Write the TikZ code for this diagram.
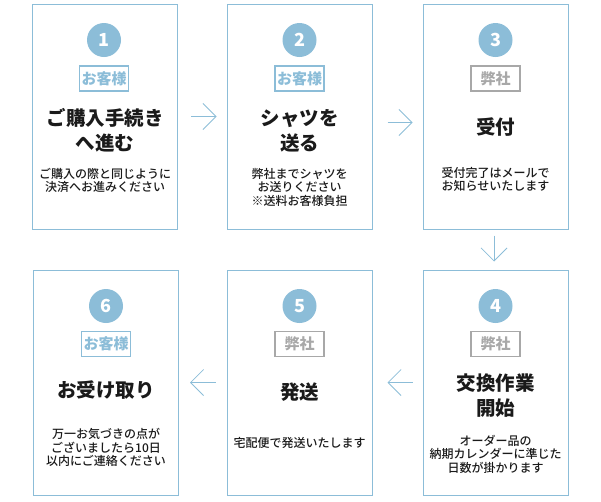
\documentclass[tikz,border=0pt]{standalone}
\usepackage{fontspec}
\setmainfont{Noto Sans CJK JP}
\newfontfamily\jpmed{Noto Sans CJK JP Medium}
\newfontfamily\jpblack{Noto Sans CJK JP Black}
\usetikzlibrary{arrows.meta}
\definecolor{accent}{HTML}{8CBDD8}
\definecolor{tagGray}{HTML}{A8A8A8}
\definecolor{ink}{HTML}{1A1A1A}
\begin{document}
\begin{tikzpicture}[x=1pt,y=-1pt,
  stepbox/.style={draw=accent, line width=1pt, minimum width=145pt, minimum height=225pt, inner sep=0pt},
  num/.style={circle, fill=accent, minimum size=34pt, inner sep=0pt, text=white, font=\fontsize{18}{18}\selectfont\jpblack},
  custtag/.style={draw=accent, line width=1.5pt, minimum width=49pt, minimum height=25pt, inner sep=0pt, text=accent, font=\fontsize{15}{15}\selectfont\bfseries},
  shoptag/.style={draw=tagGray, line width=1.5pt, minimum width=49pt, minimum height=25pt, inner sep=0pt, text=tagGray, font=\fontsize{15}{15}\selectfont\bfseries},
  title/.style={align=center, text=ink, inner sep=0pt, font=\fontsize{19.5}{25}\selectfont\jpblack},
  desc/.style={align=center, text=ink, inner sep=0pt, font=\fontsize{12}{13.5}\selectfont\jpmed},
  flow/.style={draw=accent, line width=0.8pt, -{Straight Barb[length=13pt, width=26pt, line width=0.8pt]}}
]
\useasboundingbox (0,0) rectangle (601,501);

% boxes
\node[stepbox] (b1) at (105,116.5) {};
\node[stepbox] (b2) at (299.5,116.5) {};
\node[stepbox] (b3) at (495.5,116.5) {};
\node[stepbox] (b4) at (495.5,382.5) {};
\node[stepbox] (b5) at (299.5,382.5) {};
\node[stepbox] (b6) at (106,382.5) {};

% step 1
\node[num] (n1) at (104,40) {1};
\node[custtag] (t1) at (104,78.5) {お客様};
\node[title] (h1) at (105,130.5) {ご購入手続き\\へ進む};
\node[desc] (d1) at (105,180.5) {ご購入の際と同じように\\決済へお進みください};

% step 2
\node[num] (n2) at (299.5,40) {2};
\node[custtag] (t2) at (299.5,78.5) {お客様};
\node[title] (h2) at (299.5,130.5) {シャツを\\送る};
\node[desc] (d2) at (299.5,187) {弊社までシャツを\\お送りください\\※送料お客様負担};

% step 3
\node[num] (n3) at (495.5,40) {3};
\node[shoptag] (t3) at (495.5,78.5) {弊社};
\node[title] (h3) at (495.5,127) {受付};
\node[desc] (d3) at (495.5,179.5) {受付完了はメールで\\お知らせいたします};

% step 4
\node[num] (n4) at (495.5,306) {4};
\node[shoptag] (t4) at (495.5,344) {弊社};
\node[title] (h4) at (495.5,395.5) {交換作業\\開始};
\node[desc] (d4) at (495.5,454) {オーダー品の\\納期カレンダーに準じた\\日数が掛かります};

% step 5
\node[num] (n5) at (299.5,306) {5};
\node[shoptag] (t5) at (299.5,344) {弊社};
\node[title] (h5) at (299.5,392) {発送};
\node[desc] (d5) at (299.5,443) {宅配便で発送いたします};

% step 6
\node[num] (n6) at (106,306) {6};
\node[custtag] (t6) at (106,344) {お客様};
\node[title] (h6) at (106,390) {お受け取り};
\node[desc] (d6) at (106,447.5) {万一お気づきの点が\\ございましたら10日\\以内にご連絡ください};

% connectors
\draw[flow] ([xshift=13pt]b1.east) -- ([xshift=-10pt]b2.west);
\draw[flow] ([xshift=15pt,yshift=-6pt]b2.east) -- ([xshift=-10pt,yshift=-6pt]b3.west);
\draw[flow] ([xshift=-1.5pt,yshift=-6pt]b3.south) -- ([xshift=-1.5pt,yshift=8pt]b4.north);
\draw[flow] ([xshift=-10pt]b4.west) -- ([xshift=15pt]b5.east);
\draw[flow] ([xshift=-11pt]b5.west) -- ([xshift=11pt]b6.east);
\end{tikzpicture}
\end{document}
